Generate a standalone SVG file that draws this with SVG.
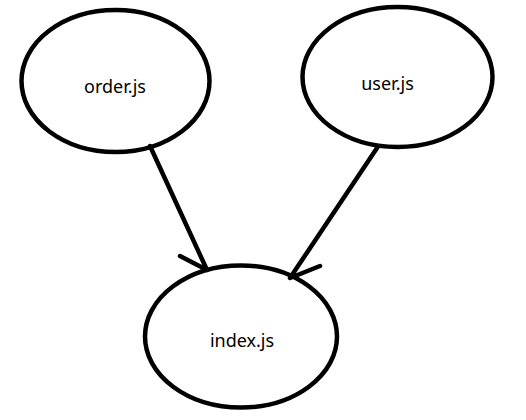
<svg xmlns="http://www.w3.org/2000/svg" width="526" height="420" viewBox="0 0 526 420">
<style>
.node ellipse{fill:#fff;stroke:#000;stroke-width:4.5}
.node text{font-family:"Noto Sans","DejaVu Sans",sans-serif;font-size:18px;fill:#000;text-anchor:middle}
.edges path{fill:none;stroke:#000;stroke-width:4.5;stroke-linecap:round}
</style>
<rect width="526" height="420" fill="#fff"/>
<g id="order"  class="node"><ellipse cx="115.5" cy="81" rx="94" ry="71"/><text x="115" y="93">order.js</text></g>
<g id="user" class="node"><ellipse cx="397.5" cy="77" rx="95" ry="70"/><text x="387.5" y="90">user.js</text></g>
<g id="index" class="node"><ellipse cx="241" cy="336.5" rx="96" ry="71"/><text x="242" y="347">index.js</text></g>
<g id="edges" class="edges">
<path d="M150,146 L207,270 M180,256 L207,270"/>
<path d="M377,148 L290,278 M320,266 L290,278"/>
</g>
</svg>
